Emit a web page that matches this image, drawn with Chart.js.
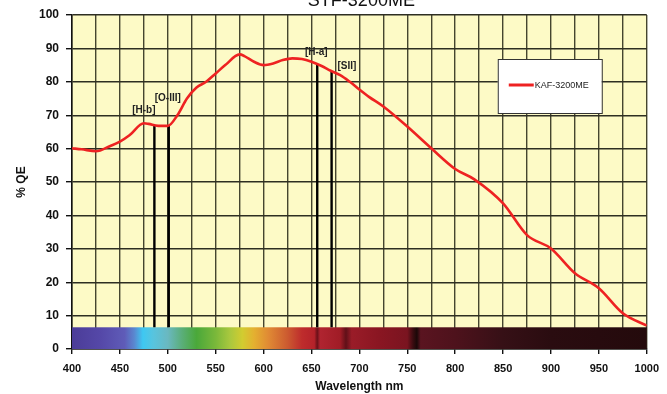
<!DOCTYPE html>
<html><head><meta charset="utf-8">
<script src="https://cdn.jsdelivr.net/npm/chart.js@4/dist/chart.umd.min.js"></script>
<style>html,body{margin:0;padding:0;background:#fff}</style>
</head><body>
<canvas id="c" width="667" height="394"></canvas>
<script>
const chartTitle = 'STF-3200ME';
const seriesName = 'KAF-3200ME';
const wavelengths = [400,410,425,440,450,460,475,480,490,500,510,520,530,540,550,560,575,580,590,600,610,620,630,640,650,660,670,680,690,700,710,725,750,775,800,820,850,875,900,925,950,975,1000];
const qe =          [60.1,59.8,59.2,60.8,62.1,64,67.6,67.4,66.8,66.8,70,75,78.3,80,82.5,85,88.2,87.7,86,85,85.5,86.5,87,86.8,86,84.8,83.3,82,80,77.7,75.5,72.6,66.6,60.1,53.9,50.8,43.6,34.1,30.1,22.7,18.2,10.7,7.0];
const lineNames = ['[H-b]','[O-III]','[H-a]','[SII]'];
const lineWavelengths = [486, 501, 656, 671];
const lineTops = [66.8, 67.0, 85.3, 83.2];
const labelWavelengths = [475, 500, 655, 687];
const labelValues = [71.6, 75.0, 88.7, 84.8];
const xLabelStep = 50;
const spectrumTop = 6.5;
const spectrumStops = [
  [400,'#4b3c98'],[430,'#5548a8'],[455,'#5f5cb8'],[465,'#5a88d0'],[474,'#3ec8f2'],[485,'#58c4de'],[500,'#6ab8c0'],
  [515,'#5aae78'],[530,'#4aa83a'],[550,'#7ab83a'],[565,'#aac83e'],[578,'#d2cc30'],[590,'#e4b030'],[605,'#e08a34'],
  [625,'#cc5a30'],[640,'#be2c2c'],[653,'#b4222a'],[656,'#6a1018'],[659,'#b02430'],[680,'#a01c26'],[686,'#601018'],
  [692,'#9a1c28'],[720,'#8a1622'],[750,'#7a1420'],[756,'#3a0c10'],[760,'#1a0808'],[764,'#5a1420'],[800,'#4e121c'],
  [850,'#361016'],[900,'#2a0c10'],[1000,'#240a0c']
];

const bgPlugin = {
  id: 'bg',
  beforeDraw(chart) {
    const {ctx, chartArea: a} = chart;
    ctx.save();
    ctx.fillStyle = '#fdfac6';
    ctx.fillRect(a.left, a.top, a.right - a.left, a.bottom - a.top);
    ctx.restore();
  },
  beforeDatasetsDraw(chart) {
    const {ctx} = chart;
    const xs = chart.scales.x, ys = chart.scales.y;
    const x0 = xs.getPixelForValue(400), x1 = xs.getPixelForValue(1000);
    const yT = ys.getPixelForValue(spectrumTop), yB = ys.getPixelForValue(0);
    const g = ctx.createLinearGradient(x0, 0, x1, 0);
    spectrumStops.forEach(([w, c]) => g.addColorStop((w - 400) / 600, c));
    ctx.save();
    ctx.fillStyle = g;
    ctx.fillRect(x0, yT, x1 - x0, yB - yT);
    ctx.restore();
  },
  afterDraw(chart) {
    const {ctx, chartArea: a} = chart;
    const xs = chart.scales.x, ys = chart.scales.y;
    ctx.save();
    ctx.fillStyle = '#111';
    ctx.font = '18px "Liberation Sans", Arial, sans-serif';
    ctx.textAlign = 'center';
    ctx.textBaseline = 'alphabetic';
    ctx.fillText(chartTitle, (a.left + a.right) / 2 + 2, 6);
    ctx.font = 'bold 10px "Liberation Sans Narrow", "Liberation Sans", Arial, sans-serif';
    ctx.textBaseline = 'middle';
    ctx.fillStyle = '#222';
    lineNames.forEach((n, i) => {
      ctx.fillText(n, xs.getPixelForValue(labelWavelengths[i]), ys.getPixelForValue(labelValues[i]));
    });
    const lx = a.right - 149, ly = a.top + 44, lw = 104, lh = 54;
    ctx.fillStyle = '#ffffff';
    ctx.fillRect(lx, ly, lw, lh);
    ctx.strokeStyle = '#333';
    ctx.lineWidth = 1;
    ctx.strokeRect(lx + 0.5, ly + 0.5, lw, lh);
    ctx.strokeStyle = '#ee2222';
    ctx.lineWidth = 3;
    ctx.beginPath();
    ctx.moveTo(lx + 11, ly + 26);
    ctx.lineTo(lx + 36, ly + 26);
    ctx.stroke();
    ctx.fillStyle = '#222';
    ctx.textAlign = 'left';
    ctx.font = '9px "Liberation Sans Narrow", "Liberation Sans", Arial, sans-serif';
    ctx.fillText(seriesName, lx + 37, ly + 26.5);
    ctx.restore();
  }
};

const datasets = [{
  label: seriesName,
  data: wavelengths.map((w, i) => ({x: w, y: qe[i]})),
  borderColor: '#ee2222',
  borderWidth: 2.6,
  pointRadius: 0,
  cubicInterpolationMode: 'monotone',
  fill: false,
  order: 0
}];
lineWavelengths.forEach((w, i) => {
  datasets.push({
    label: lineNames[i],
    data: [{x: w, y: spectrumTop}, {x: w, y: lineTops[i]}],
    borderColor: '#000',
    borderWidth: 2.4,
    pointRadius: 0,
    fill: false,
    order: 1
  });
});

new Chart(document.getElementById('c'), {
  type: 'line',
  data: {datasets},
  plugins: [bgPlugin],
  options: {
    responsive: false,
    animation: false,
    devicePixelRatio: 1,
    layout: {padding: {left: 0, right: 19, top: 15, bottom: 0}},
    plugins: {legend: {display: false}, tooltip: {enabled: false}, title: {display: false}},
    scales: {
      x: {
        type: 'linear', min: 400, max: 1000,
        afterFit(s) { s.height = 45; },
        ticks: {
          stepSize: 25, autoSkip: false, maxRotation: 0, padding: 8,
          color: '#111',
          font: {family: '"Liberation Sans Narrow", "Liberation Sans", Arial', weight: 'bold', size: 11},
          callback: v => (v % xLabelStep === 0 ? String(v) : '')
        },
        grid: {
          color: '#45452f', lineWidth: 1.4, drawTicks: true, tickLength: 5,
          tickColor: c => (c.tick && c.tick.value % xLabelStep === 0 ? '#111' : 'rgba(0,0,0,0)')
        },
        border: {color: '#111', width: 1.5},
        title: {display: true, text: 'Wavelength nm', color: '#111', padding: {top: 6, bottom: 0},
          font: {family: '"Liberation Sans", Arial', weight: 'bold', size: 12}}
      },
      y: {
        min: 0, max: 100,
        afterFit(s) { s.width = 72; },
        ticks: {stepSize: 10, padding: 7, color: '#111',
          font: {family: '"Liberation Sans", Arial', weight: 'bold', size: 12}},
        grid: {color: '#2e2e22', lineWidth: 1.4, tickLength: 6, tickColor: '#111'},
        border: {color: '#111', width: 1.5},
        title: {display: true, text: '% QE', color: '#111', padding: {top: 14, bottom: 0},
          font: {family: '"Liberation Sans", Arial', weight: 'bold', size: 12}}
      }
    }
  }
});
</script>
</body></html>
